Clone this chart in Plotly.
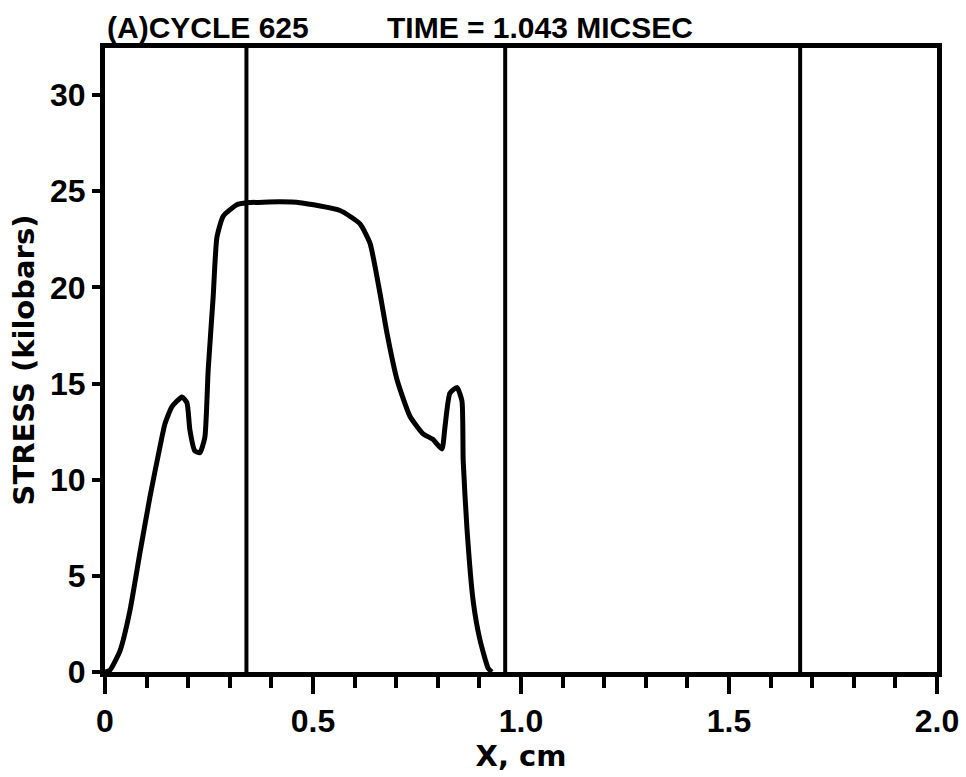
import plotly.graph_objects as go

x_cm = [0.0, 0.012, 0.036, 0.06, 0.084, 0.108, 0.132, 0.144, 0.161, 0.185, 0.197, 0.204,
        0.216, 0.228, 0.240, 0.248, 0.260, 0.269, 0.284, 0.317, 0.341, 0.421, 0.469,
        0.565, 0.613, 0.637, 0.661, 0.678, 0.702, 0.733, 0.764, 0.788, 0.810, 0.817,
        0.829, 0.846, 0.858, 0.861, 0.870, 0.885, 0.901, 0.921, 0.93]
stress_kbar = [0.0, 0.1, 1.1, 3.2, 6.2, 9.1, 11.7, 12.9, 13.8, 14.3, 14.0, 12.6,
               11.5, 11.4, 12.2, 15.7, 19.5, 22.6, 23.7, 24.3, 24.4, 24.45, 24.4,
               24.0, 23.3, 22.3, 19.7, 17.6, 15.2, 13.3, 12.4, 12.1, 11.6, 12.7,
               14.5, 14.8, 14.1, 11.0, 7.5, 3.7, 1.7, 0.2, 0.0]

# Material interfaces (cm)
interfaces_cm = [0.34, 0.962, 1.671]

x_tickvals = [0, 0.5, 1.0, 1.5, 2.0]
x_ticktext = ["0", "0.5", "1.0", "1.5", "2.0"]
y_tickvals = [0, 5, 10, 15, 20, 25, 30]
y_ticktext = ["0", "5", "10", "15", "20", "25", "30"]

title_left = "(A)CYCLE 625"
title_right = "TIME = 1.043 MICSEC"

FONT = "Liberation Sans"
TFONT = "DejaVu Sans"

fig = go.Figure()
fig.add_trace(go.Scatter(
    x=x_cm, y=stress_kbar, mode="lines",
    line=dict(color="black", width=5, shape="spline", smoothing=0.5),
    hoverinfo="skip", showlegend=False,
))

for xv in interfaces_cm:
    fig.add_shape(type="line", xref="x", yref="paper", x0=xv, x1=xv, y0=0, y1=1,
                  line=dict(color="black", width=4))

fig.update_layout(
    width=966, height=777,
    margin=dict(l=105, r=29, t=48, b=105),
    paper_bgcolor="white", plot_bgcolor="white",
    font=dict(family=FONT, color="black", size=32, weight="bold"),
    showlegend=False,
)

fig.update_xaxes(
    range=[0, 2.0], tickvals=x_tickvals, ticktext=x_ticktext, automargin=False,
    ticks="outside", ticklen=17, tickwidth=4, tickcolor="black",
    minor=dict(dtick=0.1, tick0=0, ticks="outside", ticklen=11, tickwidth=4, tickcolor="black"),
    showline=True, linecolor="black", linewidth=5, mirror=True,
    showgrid=False, zeroline=False,
    tickfont=dict(family=FONT, size=32, weight="bold"),
    title=dict(text="X, cm", font=dict(family=TFONT, size=29, weight="bold"), standoff=2),
)
fig.update_yaxes(
    range=[0, 32.45], tickvals=y_tickvals, ticktext=y_ticktext, automargin=False,
    ticks="outside", ticklen=8, tickwidth=4, tickcolor="black",
    showline=True, linecolor="black", linewidth=5, mirror=True,
    showgrid=False, zeroline=False,
    tickfont=dict(family=FONT, size=32, weight="bold"),
    title=dict(text="STRESS (kilobars)", font=dict(family=TFONT, size=29, weight="bold"), standoff=8),
)

fig.add_annotation(text=title_left, xref="paper", yref="paper", x=0, y=1,
                   xanchor="left", yanchor="bottom", showarrow=False, yshift=2,
                   font=dict(family=FONT, size=30, weight="bold"))
fig.add_annotation(text=title_right, xref="paper", yref="paper", x=0.336, y=1,
                   xanchor="left", yanchor="bottom", showarrow=False, yshift=2,
                   font=dict(family=FONT, size=30, weight="bold"))

fig.write_html("out.html")
